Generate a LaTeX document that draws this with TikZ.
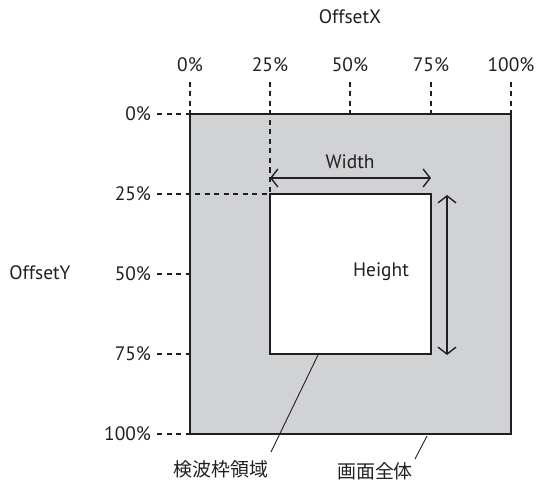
\documentclass[tikz,border=0pt]{standalone}
\usepackage{fontspec}
\setmainfont{PT Sans}
\newfontfamily\cjk{Noto Sans CJK JP}
\usetikzlibrary{arrows.meta}
\definecolor{screengray}{HTML}{D1D2D4}
\definecolor{ink}{HTML}{231F20}
\begin{document}
\begin{tikzpicture}[x=1bp,y=-1bp,
  every node/.style={font=\fontsize{19.5}{23}\selectfont, text=ink, inner sep=0pt, outer sep=0pt},
  tickline/.style={draw=ink, line width=1.4bp, dash pattern=on 5bp off 4.5bp},
  dimarrow/.style={draw=ink, line width=1.4bp, {Straight Barb[length=7bp,width=18bp]}-{Straight Barb[length=7bp,width=18bp]}},
  leader/.style={draw=ink, line width=0.9bp},
  cjklabel/.style={font=\cjk\fontsize{19}{22}\selectfont}]
\useasboundingbox (0,0) rectangle (544,483);
% whole screen
\node[draw=ink, line width=2bp, fill=screengray, minimum width=321bp, minimum height=320bp, anchor=north west] (screen) at (190,114) {};
% detection area
\node[draw=ink, line width=1.5bp, fill=white, minimum width=161bp, minimum height=160bp, anchor=north west] (area) at (270,194) {};
% titles
\node (offx) at (350,17) {OffsetX};
\node (offy) at (40,273) {OffsetY};
% top ticks
\node (tx0) at (190,65) {0\%};
\node (tx25) at (270,65) {25\%};
\node (tx50) at (350,65) {50\%};
\node (tx75) at (431,65) {75\%};
\node (tx100) at (511,65) {100\%};
\coordinate (tt0) at (190,82);
\coordinate (tt25) at (270,82);
\coordinate (tt50) at (350,82);
\coordinate (tt75) at (431,82);
\coordinate (tt100) at (511,82);
\draw[tickline] (tt0) -- (tt0 |- screen.north);
\draw[tickline] (tt25) -- (tt25 |- area.north);
\draw[tickline] (tt50) -- (tt50 |- screen.north);
\draw[tickline] (tt75) -- (tt75 |- screen.north);
\draw[tickline] (tt100) -- (tt100 |- screen.north);
% left ticks
\node[anchor=east] (ty0) at (151,114) {0\%};
\node[anchor=east] (ty25) at (151,194) {25\%};
\node[anchor=east] (ty50) at (151,274) {50\%};
\node[anchor=east] (ty75) at (151,354) {75\%};
\node[anchor=east] (ty100) at (151,434) {100\%};
\draw[tickline] ([xshift=6bp]ty0.east) -- (ty0.east -| screen.west);
\draw[tickline] ([xshift=6bp]ty25.east) -- (ty25.east -| area.west);
\draw[tickline] ([xshift=6bp]ty50.east) -- (ty50.east -| screen.west);
\draw[tickline] ([xshift=6bp]ty75.east) -- (ty75.east -| screen.west);
\draw[tickline] ([xshift=6bp]ty100.east) -- (ty100.east -| screen.west);
% width / height dimensions
\coordinate (wl) at (270,178);
\coordinate (wr) at (431,178);
\draw[dimarrow] (wl) -- (wr);
\node (wlabel) at (350,162) {Width};
\coordinate (ht) at (447,195);
\coordinate (hb) at (447,355);
\draw[dimarrow] (ht) -- (hb);
\node (hlabel) at (381,272) {Height};
% leaders
\node[cjklabel] (lab1) at (221,469) {検波枠領域};
\node[cjklabel] (lab2) at (375,471) {画面全体};
\coordinate (l1a) at (318,355);
\coordinate (l1b) at (271,452);
\draw[leader] (l1a) -- (l1b);
\coordinate (l2a) at (427,436);
\coordinate (l2b) at (415,459);
\draw[leader] (l2a) -- (l2b);
\end{tikzpicture}
\end{document}
